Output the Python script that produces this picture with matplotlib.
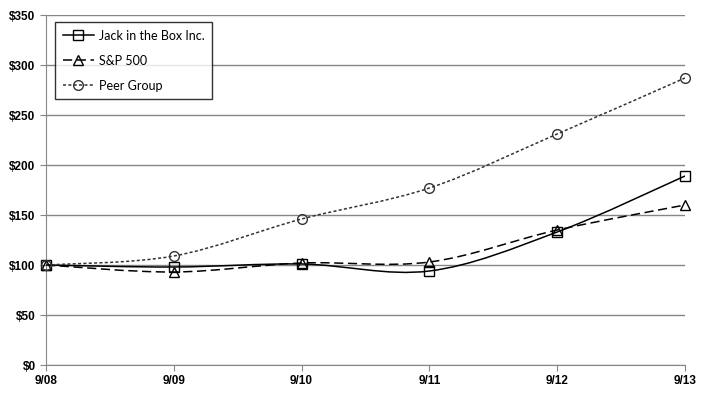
import matplotlib
matplotlib.use("Agg")
import matplotlib.pyplot as plt
from matplotlib.path import Path
from matplotlib.patches import PathPatch
from matplotlib.lines import Line2D
import numpy as np

years = ["9/08", "9/09", "9/10", "9/11", "9/12", "9/13"]
jack = [100, 98, 101, 94, 133, 189]
sp500 = [100, 93, 102, 103, 135, 160]
peer = [100, 109, 146, 177, 231, 287]


def smooth_path(xs, ys):
    """Excel-like smoothed line: cubic bezier through the points"""
    pts = np.column_stack([xs, ys]).astype(float)
    n = len(pts)
    verts = [pts[0]]
    codes = [Path.MOVETO]
    for i in range(n - 1):
        p0 = pts[i - 1] if i > 0 else pts[i]
        p1 = pts[i]
        p2 = pts[i + 1]
        p3 = pts[i + 2] if i + 2 < n else pts[i + 1]
        c1 = p1 + (p2 - p0) / 6.0
        c2 = p2 - (p3 - p1) / 6.0
        verts += [c1, c2, p2]
        codes += [Path.CURVE4] * 3
    return Path(verts, codes)


fig = plt.figure(figsize=(7.17, 3.98), dpi=100)
ax = fig.add_axes([46 / 717, 33 / 398, 639 / 717, 350 / 398])

x = np.arange(len(years))
series = [
    ("Jack in the Box Inc.", jack, "s", "-", "black"),
    ("S&P 500", sp500, "^", (0, (6, 3)), "black"),
    ("Peer Group", peer, "o", (0, (2, 1.5)), "#333333"),
]

handles = []
for label, vals, marker, ls, color in series:
    patch = PathPatch(smooth_path(x, vals), facecolor="none", edgecolor=color,
                      lw=1.1, linestyle=ls, zorder=3)
    ax.add_patch(patch)
    ax.plot(x, vals, linestyle="none", marker=marker, markersize=7,
            markerfacecolor="none", markeredgecolor=color, markeredgewidth=1.0,
            zorder=4, clip_on=False)
    handles.append(Line2D([], [], color=color, lw=1.1, linestyle=ls,
                          marker=marker, markersize=7, markerfacecolor="none",
                          markeredgewidth=1.0))

ax.set_xlim(0, len(years) - 1)
ax.set_ylim(0, 350)
ax.set_yticks(np.arange(0, 351, 50))
ax.set_yticklabels(["$%d" % v for v in range(0, 351, 50)])
ax.set_xticks(x)
ax.set_xticklabels(years)
ax.grid(axis="y", color="#868686", lw=1.0)
ax.set_axisbelow(True)

for s in ["top", "right"]:
    ax.spines[s].set_visible(False)
for s in ["left", "bottom"]:
    ax.spines[s].set_color("#868686")
ax.tick_params(axis="both", colors="#868686", length=4, labelcolor="black")
for lab in ax.get_xticklabels() + ax.get_yticklabels():
    lab.set_fontfamily("Liberation Sans")
    lab.set_fontweight("bold")
    lab.set_fontsize(8.5)

leg = ax.legend(handles, [s[0] for s in series], loc="upper left",
                bbox_to_anchor=(9 / 639, 343 / 350), borderaxespad=0,
                frameon=True, fancybox=False, edgecolor="black",
                handlelength=2.5, handletextpad=0.4, labelspacing=1.05,
                borderpad=0.6, prop={"family": "Lato", "size": 9})
leg.get_frame().set_linewidth(1.0)

fig.savefig("out.png", dpi=100)
